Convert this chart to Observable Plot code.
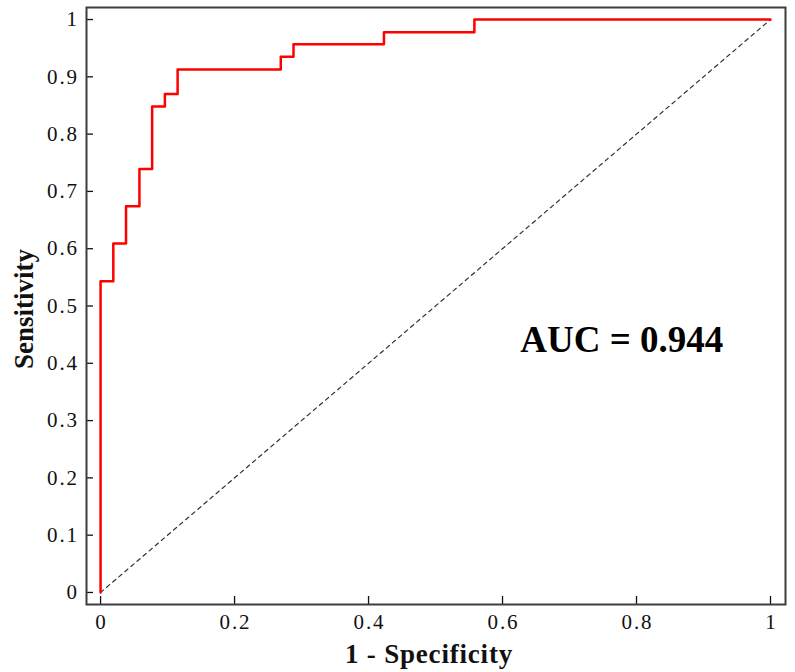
<!DOCTYPE html>
<html>
<head>
<meta charset="utf-8">
<script src="https://cdn.jsdelivr.net/npm/d3@7"></script>
<script src="https://cdn.jsdelivr.net/npm/@observablehq/plot@0.6"></script>
<style>
  html, body { margin: 0; padding: 0; background: #fff; }
</style>
</head>
<body>
<div id="chart"></div>
<script>
// ROC curve (1 - specificity, sensitivity)
const fpr = [0, 0, 0.019, 0.038, 0.058, 0.077, 0.096, 0.115, 0.269, 0.288, 0.423, 0.558, 1];
const tpr = [0, 0.543, 0.609, 0.674, 0.739, 0.848, 0.870, 0.913, 0.935, 0.957, 0.978, 1, 1];
// reference diagonal
const diagX = [0, 1];
const diagY = [0, 1];
// tick values
const xTicks = [0, 0.2, 0.4, 0.6, 0.8, 1];
const yTicks = [0, 0.1, 0.2, 0.3, 0.4, 0.5, 0.6, 0.7, 0.8, 0.9, 1];
// annotation
const aucLabel = ["AUC = 0.944"];
const aucPos = [0.778, 0.441];
const xTitle = "1 - Specificity";
const yTitle = "Sensitivity";

const roc = fpr.map((x, i) => ({x, y: tpr[i]}));
const diag = diagX.map((x, i) => ({x, y: diagY[i]}));
const fmt = d => String(+d.toFixed(1));
const serif = "Liberation Serif, Times New Roman, serif";

const chart = Plot.plot({
  width: 795,
  height: 672,
  marginLeft: 86,
  marginRight: 10,
  marginTop: 7,
  marginBottom: 68,
  style: {fontFamily: serif, fontSize: "21px", background: "#fff", color: "#111"},
  x: {domain: [-0.021, 1.0224]},
  y: {domain: [-0.021, 1.021]},
  marks: [
    Plot.line(diag, {x: "x", y: "y", stroke: "#333", strokeWidth: 1.2, strokeDasharray: "4,4"}),
    Plot.line(roc, {x: "x", y: "y", curve: "step-after", stroke: "#ff0000", strokeWidth: 2.5}),
    Plot.axisX({ticks: xTicks, tickSize: -8, tickPadding: 18, tickFormat: fmt, label: null, fontSize: 21, fontFamily: serif, color: "#111", strokeWidth: 1.3}),
    Plot.axisY({ticks: yTicks, tickSize: -7, tickPadding: 14.5, tickFormat: fmt, label: null, fontSize: 21, fontFamily: serif, color: "#111", strokeWidth: 1.3}),
    Plot.frame({stroke: "#3d3d3d", strokeWidth: 2}),
    Plot.text(aucLabel, {x: () => aucPos[0], y: () => aucPos[1], text: d => d, fontSize: 37, fontWeight: "bold", fontFamily: serif, fill: "#000"}),
    Plot.text([xTitle], {frameAnchor: "bottom", lineAnchor: "middle", textAnchor: "middle", dy: 50, dx: -7, text: d => d, fontSize: 27, fontWeight: "bold", fontFamily: serif, fill: "#111"}),
    Plot.text([yTitle], {frameAnchor: "left", lineAnchor: "middle", textAnchor: "middle", dx: -62, dy: 3, rotate: -90, text: d => d, fontSize: 27, fontWeight: "bold", fontFamily: serif, fill: "#111"})
  ]
});
// tick label typography (wide serif look of the original)
d3.select(chart).selectAll('g[aria-label="x-axis tick label"] text, g[aria-label="y-axis tick label"] text')
  .style("font-family", serif)
  .style("font-size", "21px")
  .style("letter-spacing", "1.9px");
d3.select(chart).selectAll('g[aria-label="x-axis tick label"] text')
  .attr("dx", "0.95px");
d3.select(chart).selectAll('text')
  .filter(function() { return this.textContent === xTitle; })
  .style("letter-spacing", "0.8px");
document.getElementById("chart").appendChild(chart);
</script>
</body>
</html>
